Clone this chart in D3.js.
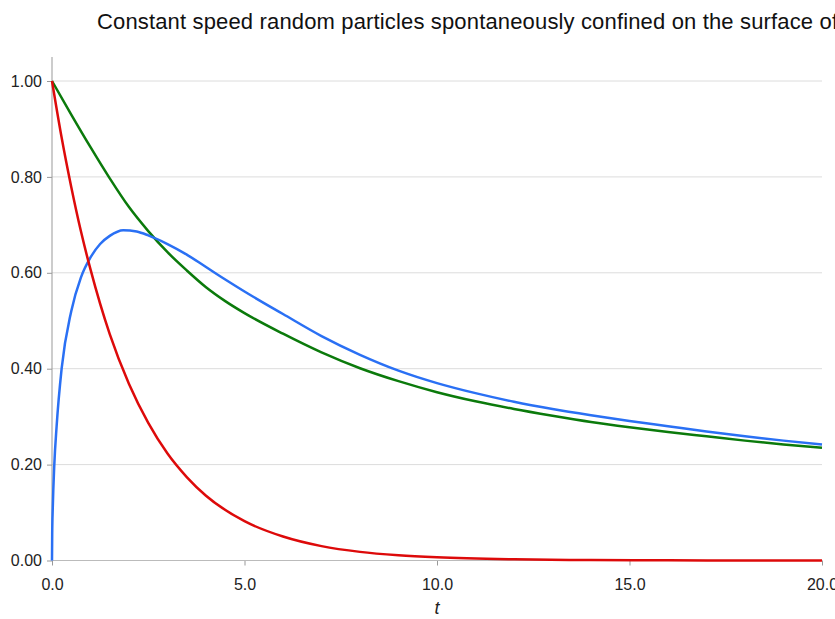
<!DOCTYPE html>
<html>
<head>
<meta charset="utf-8">
<script src="https://cdn.jsdelivr.net/npm/d3@7"></script>
<style>
  body { margin: 0; background: #fff; }
  svg { display: block; }
</style>
</head>
<body>
<div id="chart"></div>
<script>
// values
const tRed = [0, 0.25, 0.5, 0.75, 1, 1.5, 2, 2.5, 3, 3.5, 4, 5, 6, 7, 8, 9, 10, 12, 14, 16, 18, 20];
const red = [1.0, 0.882, 0.779, 0.687, 0.607, 0.472, 0.368, 0.287, 0.223, 0.174, 0.135, 0.082, 0.050, 0.030, 0.018, 0.011, 0.0067, 0.0025, 0.0009, 0.0003, 0.0001, 0.0];

const tGreen = [0, 0.5, 1, 1.5, 2, 2.5, 3, 3.5, 4, 4.5, 5, 6, 7, 8, 9, 10, 11, 12, 13, 14, 15, 16, 17, 18, 19, 20];
const green = [1.0, 0.930, 0.862, 0.797, 0.737, 0.687, 0.643, 0.605, 0.570, 0.541, 0.516, 0.473, 0.434, 0.401, 0.374, 0.351, 0.332, 0.316, 0.302, 0.289, 0.278, 0.268, 0.259, 0.250, 0.242, 0.235];

const tBlue = [0, 0.005, 0.02, 0.06, 0.12, 0.25, 0.5, 0.75, 1, 1.25, 1.5, 1.85, 2.2, 2.5, 3, 3.5, 4, 4.5, 5, 6, 7, 8, 9, 10, 11, 12, 13, 14, 15, 16, 17, 18, 19, 20];
const blue = [0, 0.055, 0.11, 0.20, 0.28, 0.40, 0.52, 0.59, 0.632, 0.660, 0.677, 0.689, 0.686, 0.678, 0.660, 0.638, 0.612, 0.586, 0.561, 0.514, 0.468, 0.429, 0.396, 0.370, 0.349, 0.331, 0.316, 0.303, 0.291, 0.280, 0.269, 0.259, 0.250, 0.242];

const xTicks = [0, 5, 10, 15, 20];
const yTicks = [0, 0.2, 0.4, 0.6, 0.8, 1.0];

const width = 835, height = 619;

const svg = d3.select("#chart").append("svg")
    .attr("width", width)
    .attr("height", height);

const x = d3.scaleLinear().domain([0, 20]).range([52, 822]);
const y = d3.scaleLinear().domain([0, 1]).range([560.5, 81]);

const title = svg.append("text")
    .attr("x", 97).attr("y", 29)
    .attr("font-family", "Liberation Sans, Arial, sans-serif")
    .attr("font-size", "22px")
    .attr("fill", "#111");
title.append("tspan")
    .attr("textLength", 741)
    .attr("lengthAdjust", "spacing")
    .text("Constant speed random particles spontaneously confined on the surface of");
title.append("tspan")
    .text(" a sphere");

// gridlines
svg.append("g")
    .selectAll("line")
    .data(yTicks.filter(function(d) { return d > 0; }))
    .join("line")
    .attr("x1", x(0)).attr("x2", x(20))
    .attr("y1", function(d) { return y(d); })
    .attr("y2", function(d) { return y(d); })
    .attr("stroke", "#dcdcdc")
    .attr("stroke-width", 1);

const yAxis = svg.append("g")
    .attr("transform", "translate(" + x(0) + ",0)")
    .call(d3.axisLeft(y).tickValues(yTicks).tickFormat(d3.format(".2f")).tickSize(5).tickPadding(5));
yAxis.select(".domain").remove();

const xAxis = svg.append("g")
    .attr("transform", "translate(0," + y(0) + ")")
    .call(d3.axisBottom(x).tickValues(xTicks).tickFormat(d3.format(".1f")).tickSize(5).tickPadding(13));
xAxis.select(".domain").remove();

[yAxis, xAxis].forEach(function(g) {
    g.selectAll(".tick line").attr("stroke", "#999");
    g.selectAll(".tick text")
        .attr("font-family", "Liberation Sans, Arial, sans-serif")
        .attr("font-size", "16px")
        .attr("fill", "#222");
});

// axis lines
svg.append("line")
    .attr("x1", x(0)).attr("x2", x(0))
    .attr("y1", 57).attr("y2", y(0))
    .attr("stroke", "#999");
svg.append("line")
    .attr("x1", x(0)).attr("x2", x(20))
    .attr("y1", y(0)).attr("y2", y(0))
    .attr("stroke", "#bbb");

svg.append("text")
    .attr("x", 437).attr("y", 614)
    .attr("text-anchor", "middle")
    .attr("font-family", "Liberation Sans, Arial, sans-serif")
    .attr("font-style", "italic")
    .attr("font-size", "18px")
    .attr("fill", "#222")
    .text("t");

const line = d3.line()
    .x(function(d) { return x(d[0]); })
    .y(function(d) { return y(d[1]); })
    .curve(d3.curveMonotoneX);

const series = [
    {t: tGreen, v: green, color: "#0b7a0b"},
    {t: tBlue, v: blue, color: "#2a70f4"},
    {t: tRed, v: red, color: "#dd0a0a"}
];

svg.append("g")
    .selectAll("path")
    .data(series)
    .join("path")
    .attr("d", function(s) { return line(s.t.map(function(t, i) { return [t, s.v[i]]; })); })
    .attr("fill", "none")
    .attr("stroke", function(s) { return s.color; })
    .attr("stroke-width", 2.5);
</script>
</body>
</html>
